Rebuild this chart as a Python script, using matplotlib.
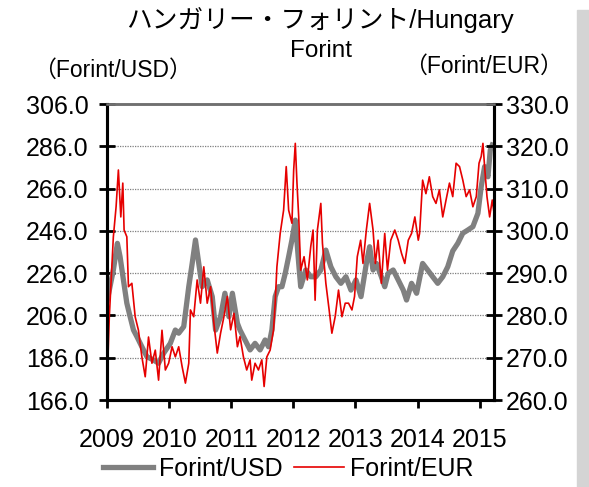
import matplotlib
matplotlib.use("Agg")
import matplotlib.pyplot as plt
from matplotlib.patches import Rectangle

plt.rcParams['font.family'] = ['Liberation Sans', 'Noto Sans CJK JP', 'DejaVu Sans']

title1 = "ハンガリー・フォリント/Hungary"
title2 = "Forint"
left_label = "（Forint/USD）"
right_label = "（Forint/EUR）"
years = [2009, 2010, 2011, 2012, 2013, 2014, 2015]

# Forint/USD (left axis), x in fractional years
usd_t = [2009.005, 2009.102, 2009.167, 2009.21, 2009.264, 2009.319, 2009.372, 2009.426,
	2009.481, 2009.561, 2009.642, 2009.749, 2009.83, 2009.911, 2010.019, 2010.1,
	2010.154, 2010.235, 2010.316, 2010.371, 2010.424, 2010.477, 2010.532, 2010.613,
	2010.694, 2010.748, 2010.828, 2010.898, 2010.963, 2011.018, 2011.099, 2011.141,
	2011.222, 2011.303, 2011.383, 2011.464, 2011.545, 2011.6, 2011.654, 2011.707,
	2011.762, 2011.816, 2011.869, 2011.924, 2011.977, 2012.031, 2012.086, 2012.118,
	2012.199, 2012.28, 2012.361, 2012.442, 2012.523, 2012.604, 2012.684, 2012.765,
	2012.846, 2012.927, 2013.008, 2013.089, 2013.175, 2013.228, 2013.283, 2013.337,
	2013.417, 2013.471, 2013.526, 2013.607, 2013.688, 2013.769, 2013.822, 2013.903,
	2013.984, 2014.081, 2014.162, 2014.243, 2014.324, 2014.405, 2014.485, 2014.566,
	2014.647, 2014.728, 2014.809, 2014.89, 2014.971, 2015.024, 2015.079, 2015.133,
	2015.17, 2015.202]
usd_val = [213.3, 227.5, 240.1, 233.8, 222.8, 211.8, 205.4, 199.1,
	196.0, 191.2, 186.5, 184.9, 183.4, 188.1, 192.8, 199.1,
	197.6, 200.7, 219.6, 230.6, 241.7, 230.6, 219.6, 222.8,
	214.9, 199.1, 205.4, 216.5, 205.4, 216.5, 202.3, 199.1,
	194.4, 189.7, 192.8, 189.7, 194.4, 191.2, 199.1, 214.9,
	219.6, 219.6, 225.9, 233.8, 241.7, 251.1, 230.6, 219.6,
	227.5, 224.3, 224.3, 227.5, 236.9, 229.0, 224.3, 221.2,
	224.3, 218.0, 222.8, 214.9, 230.6, 238.5, 227.5, 230.6,
	224.3, 219.6, 225.9, 227.5, 222.8, 218.0, 213.3, 221.2,
	216.5, 230.6, 227.5, 224.3, 221.2, 224.3, 229.0, 236.5,
	240.1, 244.9, 246.4, 248.0, 254.3, 266.9, 276.4, 271.6,
	284.2, 286.6]

# Forint/EUR (right axis)
eur_t = [2009.005, 2009.037, 2009.102, 2009.146, 2009.183, 2009.222, 2009.254, 2009.275,
	2009.319, 2009.345, 2009.4, 2009.453, 2009.506, 2009.561, 2009.615, 2009.668,
	2009.723, 2009.777, 2009.83, 2009.885, 2009.939, 2009.992, 2010.047, 2010.1,
	2010.154, 2010.209, 2010.262, 2010.316, 2010.343, 2010.396, 2010.451, 2010.505,
	2010.558, 2010.613, 2010.667, 2010.72, 2010.775, 2010.828, 2010.882, 2010.937,
	2010.99, 2011.044, 2011.099, 2011.141, 2011.196, 2011.249, 2011.303, 2011.33,
	2011.383, 2011.438, 2011.492, 2011.529, 2011.573, 2011.626, 2011.681, 2011.707,
	2011.735, 2011.788, 2011.843, 2011.885, 2011.924, 2011.977, 2012.005, 2012.031,
	2012.058, 2012.086, 2012.118, 2012.172, 2012.225, 2012.28, 2012.317, 2012.35,
	2012.387, 2012.442, 2012.468, 2012.523, 2012.576, 2012.62, 2012.673, 2012.727,
	2012.782, 2012.835, 2012.888, 2012.943, 2012.985, 2013.029, 2013.083, 2013.121,
	2013.175, 2013.228, 2013.283, 2013.32, 2013.364, 2013.417, 2013.471, 2013.515,
	2013.568, 2013.633, 2013.688, 2013.741, 2013.794, 2013.85, 2013.903, 2013.956,
	2014.011, 2014.032, 2014.081, 2014.134, 2014.189, 2014.243, 2014.296, 2014.351,
	2014.405, 2014.458, 2014.513, 2014.566, 2014.62, 2014.675, 2014.728, 2014.782,
	2014.837, 2014.89, 2014.945, 2014.989, 2015.024, 2015.052, 2015.079, 2015.117,
	2015.16, 2015.202, 2015.225]
eur_val = [265.5, 279.7, 298.6, 305.7, 314.4, 303.3, 311.3, 300.2,
	298.6, 286.8, 287.6, 279.7, 276.5, 270.2, 265.5, 274.9,
	268.7, 271.8, 264.7, 276.5, 267.1, 268.7, 272.6, 270.2,
	272.6, 267.9, 264.0, 268.7, 281.3, 279.7, 288.4, 282.9,
	291.5, 282.9, 286.8, 278.2, 271.1, 275.8, 279.7, 284.5,
	276.6, 280.5, 272.6, 275.0, 270.2, 267.1, 269.5, 264.7,
	268.7, 267.1, 269.5, 263.2, 270.2, 271.8, 276.6, 282.9,
	291.5, 299.4, 304.9, 315.2, 304.9, 301.8, 314.4, 320.7,
	311.3, 303.3, 290.7, 293.9, 288.4, 296.3, 300.2, 283.6,
	300.2, 306.5, 297.1, 287.6, 281.3, 275.8, 279.7, 286.0,
	279.7, 282.9, 282.9, 281.3, 284.5, 293.9, 297.8, 292.3,
	300.2, 306.5, 300.2, 292.3, 297.8, 287.6, 299.4, 290.7,
	297.8, 300.2, 297.8, 294.7, 292.3, 297.8, 299.4, 303.3,
	297.8, 299.4, 312.0, 308.8, 312.8, 308.1, 306.5, 309.7,
	303.3, 307.3, 311.3, 308.1, 316.0, 315.2, 312.0, 308.1,
	309.7, 305.7, 308.1, 316.0, 317.6, 320.7, 315.2, 308.1,
	303.3, 307.3, 304.9]

fig = plt.figure(figsize=(5.89, 4.87), dpi=100)
ax = fig.add_axes([0.1817, 0.1786, 0.6570, 0.6078])
ax2 = ax.twinx()

l1, = ax.plot(usd_t, usd_val, color="#808080", lw=3.8, label="Forint/USD")
l2, = ax2.plot(eur_t, eur_val, color="#e60000", lw=1.2, label="Forint/EUR")

ax.set_xlim(2009, 2015.23)
ax.set_ylim(166, 306)
ax2.set_ylim(260, 330)
ax.set_yticks(range(166, 307, 20))
ax2.set_yticks(range(260, 331, 10))
ax.set_xticks(years)
ax.set_xticklabels([str(y) for y in years])
ax.yaxis.set_major_formatter(plt.FormatStrFormatter("%.1f"))
ax2.yaxis.set_major_formatter(plt.FormatStrFormatter("%.1f"))

for v in range(186, 300, 20):
	ax.axhline(v, color="#7f7f7f", lw=0.9, ls=(0, (1, 1)), zorder=0)

for a in (ax, ax2):
	for s in a.spines.values():
		s.set_linewidth(2.2)
	a.spines['top'].set_color("#707070")
	a.spines['top'].set_linewidth(1.8)
ax.tick_params(axis='y', direction='inout', length=11, width=2, labelsize=18, pad=8)
ax2.tick_params(axis='y', direction='inout', length=11, width=2, labelsize=18, pad=3)
ax.tick_params(axis='x', direction='out', length=6, width=2, labelsize=18, pad=14)

# title in two lines, the second one sits between the unit labels
fig.text(320 / 589, 1 - 20 / 487, title1, ha='center', va='center', fontsize=18.5)
fig.text(321 / 589, 1 - 51 / 487, title2, ha='center', va='center', fontsize=17.5)
fig.text(112 / 589, 1 - 70 / 487, left_label, ha='center', va='center', fontsize=16.5)
fig.text(483 / 589, 1 - 66 / 487, right_label, ha='center', va='center', fontsize=16.5)

fig.legend([l1, l2], ["Forint/USD", "Forint/EUR"], loc='center', bbox_to_anchor=(288 / 589, 1 - 469 / 487),
	ncol=2, frameon=False, fontsize=18, handlelength=2.0, handletextpad=0.25, columnspacing=0.45,
	borderpad=0, borderaxespad=0)

fig.patches.append(Rectangle((577 / 589, 0), 12 / 589, 1 - 10 / 487, transform=fig.transFigure,
	color="#d4d4d4", zorder=-1))

fig.savefig("out.png", dpi=100)
